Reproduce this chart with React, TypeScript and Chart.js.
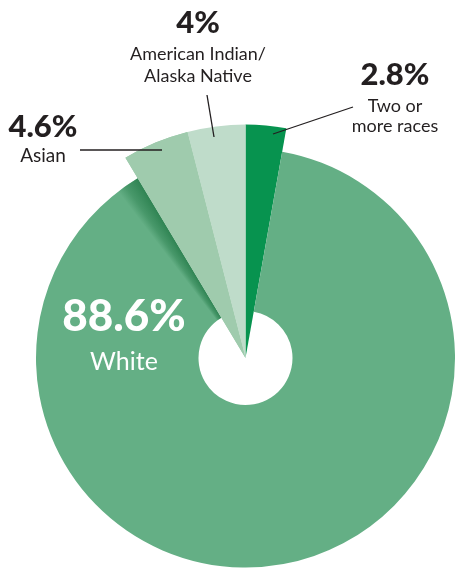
import React, { useEffect, useRef } from "react";
import { Chart, registerables } from "chart.js";

Chart.register(...registerables);

// ---- data ----
const categories = ["Two or more races", "White", "Asian", "American Indian/Alaska Native"];
const values = [2.8, 88.6, 4.6, 4.0];
const valueLabels = ["2.8%", "88.6%", "4.6%", "4%"];
const nameLines = [["Two or", "more races"], ["White"], ["Asian"], ["American Indian/", "Alaska Native"]];
const colors = ["#07934F", "#64AF85", "#9FCBAD", "#BFDCCA"];
const raisedSlices = [0, 2, 3];

// ---- styles / layout (not data) ----
const DARK = "#231F20";
const RAISE_RATIO = 234 / 210;
const labelStyle = [
  { x: 395, numY: 85, nameY: 112, lineH: 20, color: DARK, numSize: 31, nameSize: 18 },
  { x: 124, numY: 331, nameY: 370, lineH: 24, color: "#FFFFFF", numSize: 44, nameSize: 25 },
  { x: 43, numY: 137, nameY: 162, lineH: 20, color: DARK, numSize: 31, nameSize: 19 },
  { x: 198, numY: 33, nameY: 60, lineH: 22, color: DARK, numSize: 31, nameSize: 18 },
];
const leaders = [
  [353, 107, 273, 134],
  null,
  [80, 150, 162, 150],
  [207, 95, 214, 137],
];

const raisePlugin = {
  id: "raiseSlices",
  afterDatasetsUpdate(chart: any) {
    const meta = chart.getDatasetMeta(0);
    const base = meta.data[1].outerRadius;
    raisedSlices.forEach((i) => {
      const el = meta.data[i];
      el.outerRadius = base * RAISE_RATIO;
      el.innerRadius = 0;
    });
  },
};

const shadowPlugin = {
  id: "sliceShadow",
  afterDatasetsDraw(chart: any) {
    const ctx = chart.ctx;
    const meta = chart.getDatasetMeta(0);
    const white = meta.data[1];
    const asian = meta.data[2];
    const a1 = asian.startAngle;
    const w = (6.5 * Math.PI) / 180;
    const a0 = a1 - w;
    const cx = white.x, cy = white.y;
    ctx.save();
    const g = ctx.createConicGradient(a0, cx, cy);
    const f = w / (2 * Math.PI);
    g.addColorStop(0, "rgba(38,124,74,0)");
    g.addColorStop(f * 0.4, "rgba(38,124,74,0.45)");
    g.addColorStop(f, "rgba(38,124,74,0.85)");
    g.addColorStop(Math.min(1, f + 0.0005), "rgba(38,124,74,0)");
    g.addColorStop(1, "rgba(38,124,74,0)");
    ctx.beginPath();
    ctx.arc(cx, cy, white.outerRadius, a0, a1);
    ctx.arc(cx, cy, white.innerRadius, a1, a0, true);
    ctx.closePath();
    ctx.fillStyle = g;
    ctx.fill();
    ctx.restore();
    asian.draw(ctx);
  },
};

const labelPlugin = {
  id: "sliceLabels",
  afterDraw(chart: any) {
    const ctx = chart.ctx;
    ctx.save();
    ctx.textAlign = "center";
    ctx.textBaseline = "alphabetic";
    categories.forEach((_, i) => {
      const s = labelStyle[i];
      ctx.fillStyle = s.color;
      ctx.font = `900 ${s.numSize}px Lato, "DejaVu Sans", sans-serif`;
      ctx.fillText(valueLabels[i], s.x, s.numY);
      ctx.font = `400 ${s.nameSize}px Lato, "DejaVu Sans", sans-serif`;
      nameLines[i].forEach((line, j) => {
        ctx.fillText(line, s.x, s.nameY + j * s.lineH);
      });
      const l = leaders[i];
      if (l) {
        ctx.strokeStyle = DARK;
        ctx.lineWidth = 1.3;
        ctx.beginPath();
        ctx.moveTo(l[0], l[1]);
        ctx.lineTo(l[2], l[3]);
        ctx.stroke();
      }
    });
    ctx.restore();
  },
};

export default function App() {
  const ref = useRef<HTMLCanvasElement | null>(null);
  useEffect(() => {
    if (!ref.current) return;
    const chart = new Chart(ref.current, {
      type: "doughnut",
      data: {
        labels: categories,
        datasets: [
          {
            data: values,
            backgroundColor: colors,
            borderWidth: 0,
            clip: false,
          } as any,
        ],
      },
      options: {
        animation: false,
        responsive: true,
        maintainAspectRatio: false,
        events: [],
        cutout: 47,
        layout: { padding: { left: 36, right: 0, top: 148, bottom: 2 } },
        plugins: {
          legend: { display: false },
          tooltip: { enabled: false },
        },
      } as any,
      plugins: [raisePlugin, shadowPlugin, labelPlugin],
    });
    return () => chart.destroy();
  }, []);
  return (
    <div style={{ position: "absolute", left: 0, top: 0, width: 455, height: 570, background: "#fff" }}>
      <canvas ref={ref} />
    </div>
  );
}
